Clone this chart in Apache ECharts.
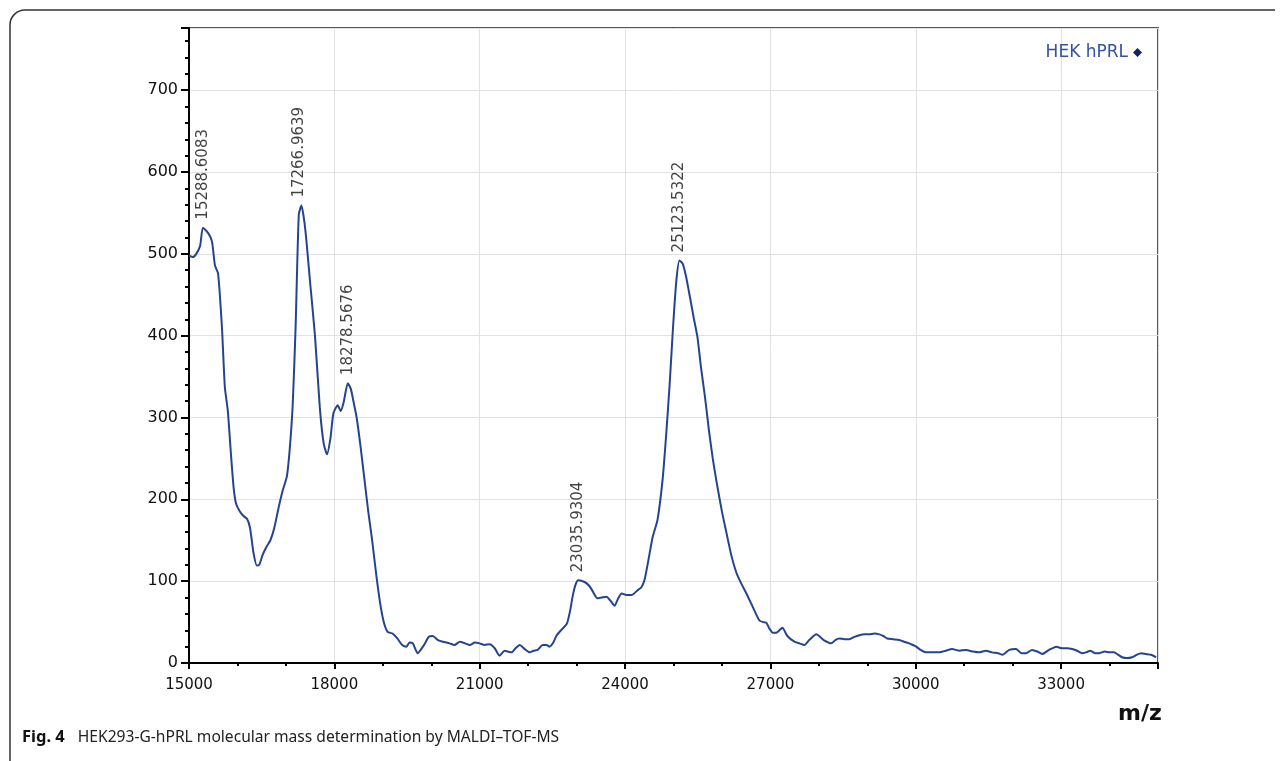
<!DOCTYPE html>
<html>
<head>
<meta charset="utf-8">
<script src="https://cdn.jsdelivr.net/npm/echarts@6/dist/echarts.min.js"></script>
<style>
  html, body { margin: 0; padding: 0; background: #fff; }
  #main { width: 1285px; height: 761px; }
</style>
</head>
<body>
<div id="main"></div>
<script>
// spectrum trace (m/z, intensity)
var mz = [
    15000, 15080, 15150, 15230, 15288, 15400, 15475, 15535, 15600, 15680, 15740, 15800,
    15860, 15920, 15970, 16050, 16120, 16200, 16260, 16330, 16400, 16450, 16520, 16600,
    16680, 16760, 16850, 16930, 17020, 17080, 17140, 17200, 17266, 17320, 17400, 17500,
    17600, 17700, 17780, 17850, 17920, 17980, 18070, 18130, 18190, 18278,
    18340, 18400, 18460, 18540, 18620, 18700, 18780, 18860, 18940, 19020, 19100, 19200,
    19300, 19400, 19490, 19550, 19620, 19720, 19850, 19950, 20030, 20140, 20240, 20380,
    20480, 20590, 20700, 20795, 20900, 21000, 21100, 21206, 21310, 21410, 21515, 21580,
    21660, 21740, 21825, 21930, 22030, 22110, 22195, 22300, 22380, 22440, 22520, 22590,
    22710, 22800, 22870, 22920, 22980, 23036, 23165, 23250, 23310, 23430, 23520, 23620,
    23700, 23785, 23850, 23930, 24030, 24135, 24260, 24330, 24400, 24480, 24570, 24670,
    24775, 24850, 24920, 24990, 25060, 25123, 25190, 25260, 25340, 25420, 25495, 25570,
    25650, 25730, 25810, 25887, 26000, 26093, 26200, 26300, 26400, 26505, 26640, 26773,
    26850, 26918, 26980,
    27050, 27124, 27185, 27247, 27350, 27495, 27600, 27700, 27800, 27948, 28100, 28257,
    28340, 28420, 28530, 28630, 28735, 28835, 28940, 29040, 29150, 29250, 29330, 29410,
    29530, 29660, 29760, 29866, 29940, 30010, 30100, 30215, 30350, 30485, 30620, 30750,
    30900, 31040, 31180, 31310, 31450, 31575, 31700, 31790, 31930, 32070, 32180, 32280,
    32400, 32510, 32610, 32750, 32900, 33020, 33130, 33230, 33330, 33430, 33515, 33600,
    33700, 33780, 33900, 34000, 34090, 34180, 34260, 34360, 34465, 34560, 34650, 34750,
    34855, 34960
];
var intensity = [
    498, 496, 500, 510, 532, 525, 515, 486, 476, 410, 337, 309,
    260, 215, 195, 185, 180, 176, 165, 135, 119, 120, 132, 142,
    150, 165, 190, 210, 228, 262, 315, 410, 548, 559, 530, 465,
    400, 312, 268, 255, 275, 305, 315, 308, 318, 342,
    335, 318, 300, 265, 225, 185, 150, 110, 75, 50, 38, 36,
    30, 22, 20, 25, 24, 12, 22, 32, 33, 28, 26, 24,
    22, 26, 24, 22, 25, 24, 22, 23, 18, 9, 15, 14,
    13, 18, 22, 17, 13, 15, 16, 22, 22, 20, 25, 34,
    42, 48, 65, 82, 96, 101, 99, 95, 90, 79, 80, 81,
    76, 70, 78, 85, 83, 83, 89, 92, 101, 125, 154, 175,
    224, 280, 340, 410, 468, 492, 488, 472, 447, 421, 398, 360,
    325, 285, 250, 222, 185, 159, 130, 110, 97, 85, 68, 52,
    50, 49, 42,
    37, 37, 40, 43, 33, 26, 24, 22, 28, 35, 28, 24,
    28, 30, 29, 29, 32, 34, 35, 35, 36, 35, 33, 30,
    29, 28, 26, 24, 22, 20, 16, 13, 13, 13, 15, 17,
    15, 16, 14, 13, 15, 13, 12, 10, 16, 17, 12, 12,
    16, 14, 11, 16, 20, 18, 18, 17, 15, 12, 13, 15,
    12, 12, 14, 13, 13, 10, 7, 6, 7, 10, 12, 11,
    10, 7
];

// annotated peaks
var peakMz = [15288.6083, 17266.9639, 18278.5676, 23035.9304, 25123.5322];
var peakHeight = [532, 559, 342, 101, 492];

var seriesName = 'HEK hPRL';

var lineData = mz.map(function (x, i) { return [x, intensity[i]]; });
var peakData = peakMz.map(function (x, i) { return [x, peakHeight[i]]; });

var chart = echarts.init(document.getElementById('main'));
var tickFont = { fontFamily: 'DejaVu Sans', color: '#111' };
var frameStroke = { stroke: '#333', lineWidth: 1.5, fill: null };

chart.setOption({
    animation: false,
    backgroundColor: '#fff',
    grid: {
        left: 189, right: 127, top: 28, bottom: 98,
        show: true, borderColor: '#555', borderWidth: 2
    },
    legend: {
        data: [{ name: seriesName, icon: 'diamond', itemStyle: { color: '#16235e' } }],
        align: 'right',
        right: 138,
        top: 39,
        itemWidth: 9,
        itemHeight: 9,
        itemGap: 6,
        textStyle: { color: '#3452a4', fontSize: 17, fontFamily: 'DejaVu Sans' }
    },
    xAxis: [
        {
            type: 'value', position: 'bottom', min: 15000, max: 35000, interval: 3000,
            axisLine: { onZero: false, lineStyle: { color: '#000', width: 2 } },
            axisTick: { length: 6, lineStyle: { color: '#000', width: 2 } },
            axisLabel: Object.assign({
                fontSize: 15, margin: 15,
                formatter: function (v) { return v <= 33000 ? String(v) : ''; }
            }, tickFont),
            splitLine: { show: true, lineStyle: { color: '#e2e2e2', width: 1 } }
        },
        {
            type: 'value', position: 'bottom', min: 15000, max: 35000, interval: 1000,
            axisLine: { show: false, onZero: false },
            axisTick: { show: true, length: 3, lineStyle: { color: '#000', width: 2 } },
            axisLabel: { show: false },
            splitLine: { show: false }
        }
    ],
    yAxis: [
        {
            type: 'value', position: 'left', min: 0, max: 776, interval: 100,
            axisLine: { show: true, onZero: false, lineStyle: { color: '#000', width: 2 } },
            axisTick: { show: true, length: 8, lineStyle: { color: '#000', width: 2 } },
            axisLabel: Object.assign({
                fontSize: 16, margin: 11,
                formatter: function (v) { return v % 100 === 0 ? String(v) : ''; }
            }, tickFont),
            splitLine: { show: true, lineStyle: { color: '#e2e2e2', width: 1 } }
        },
        {
            type: 'value', position: 'left', min: 0, max: 776, interval: 20,
            axisLine: { show: false, onZero: false },
            axisTick: { show: true, length: 4, lineStyle: { color: '#000', width: 2 } },
            axisLabel: { show: false },
            splitLine: { show: false }
        }
    ],
    series: [
        {
            name: seriesName,
            type: 'line',
            xAxisIndex: 0,
            yAxisIndex: 0,
            data: lineData,
            showSymbol: false,
            smooth: 0.2,
            lineStyle: { color: '#25448f', width: 2 },
            itemStyle: { color: '#25448f' }
        },
        {
            name: 'peaks',
            type: 'scatter',
            xAxisIndex: 0,
            yAxisIndex: 0,
            data: peakData,
            symbolSize: 2,
            itemStyle: { color: 'rgba(0,0,0,0)' },
            label: {
                show: true,
                position: 'top',
                distance: 7,
                rotate: 90,
                align: 'left',
                verticalAlign: 'middle',
                fontSize: 15,
                fontFamily: 'DejaVu Sans',
                color: '#111',
                formatter: function (p) { return p.value[0].toFixed(4); }
            }
        }
    ],
    graphic: [
        // rounded page frame, top-left corner only
        { type: 'line', shape: { x1: 10, y1: 25, x2: 10, y2: 761 }, style: frameStroke },
        { type: 'arc', shape: { cx: 25, cy: 25, r: 15, startAngle: Math.PI, endAngle: Math.PI * 1.5 }, style: frameStroke },
        { type: 'line', shape: { x1: 25, y1: 10, x2: 1275, y2: 10 }, style: frameStroke },
        {
            type: 'text', left: 1118, top: 703,
            style: { text: 'm/z', fontSize: 22, fontWeight: 'bold', fontFamily: 'DejaVu Sans', fill: '#111' }
        },
        {
            type: 'text', left: 22, top: 729,
            style: {
                text: '{b|Fig. 4}HEK293-G-hPRL molecular mass determination by MALDI\u2013TOF-MS',
                fontSize: 15.6, fontFamily: 'Noto Sans', fill: '#222',
                rich: { b: { fontWeight: 'bold', fontSize: 16.5, fontFamily: 'Noto Sans', fill: '#111', padding: [0, 13, 0, 0] } }
            }
        }
    ]
});
</script>
</body>
</html>
